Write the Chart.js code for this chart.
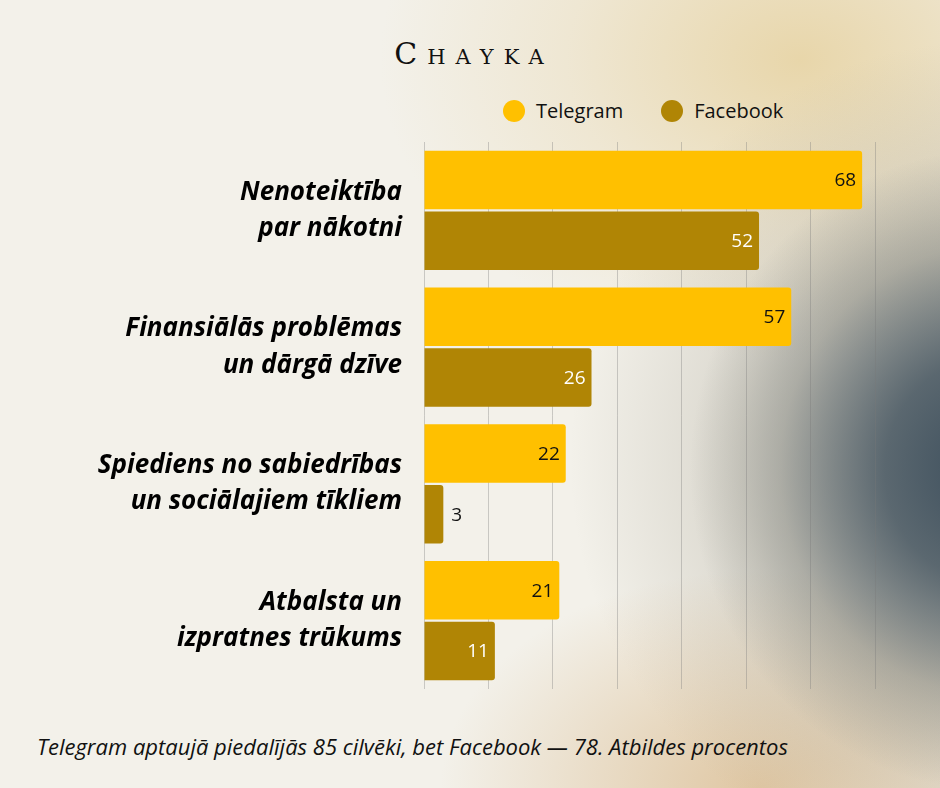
<!DOCTYPE html>
<html><head><meta charset="utf-8">
<script src="https://cdn.jsdelivr.net/npm/chart.js@4"></script>
<style>
html,body{margin:0;padding:0;width:940px;height:788px;overflow:hidden;font-family:"Open Sans",Roboto,sans-serif}
#bg{position:absolute;left:0;top:0;width:940px;height:788px;
background:
radial-gradient(ellipse 300px 320px at 990px 470px, rgba(60,78,92,1) 0%, rgba(75,90,100,0.85) 35%, rgba(130,132,125,0.45) 70%, rgba(200,190,170,0) 100%),
radial-gradient(ellipse 420px 420px at 990px 460px, rgba(90,100,105,0.6) 0%, rgba(160,155,140,0.3) 60%, rgba(220,210,190,0) 100%),
radial-gradient(ellipse 420px 300px at 800px 60px, rgba(232,214,170,1) 0%, rgba(236,224,195,0.6) 55%, rgba(243,240,232,0) 100%),
radial-gradient(ellipse 320px 220px at 760px 790px, rgba(222,196,158,0.95) 0%, rgba(240,230,210,0) 100%),
#f3f1ea;}
#wrap{position:absolute;left:0;top:0;width:940px;height:788px}
#title{position:absolute;top:36px;left:0;width:940px;text-align:center;font-family:"DejaVu Serif",serif;font-size:30px;font-variant:small-caps;letter-spacing:10px;color:#111;padding-left:8px;box-sizing:border-box}
#legend{position:absolute;top:95px;left:503px;font-size:20px;color:#111}
#legend span{display:inline-block;vertical-align:middle}
.dot{width:22px;height:22px;border-radius:50%;margin-right:11px}
#foot{position:absolute;left:37px;top:731px;font-size:22px;font-style:italic;color:#111;white-space:nowrap}
</style></head><body>
<div id="bg"></div>
<div id="title">Chayka</div>
<div id="legend"><span class="dot" style="background:#FFC000"></span><span>Telegram</span><span style="width:38px"></span><span class="dot" style="background:#B08505"></span><span>Facebook</span></div>
<div id="foot">Telegram aptaujā piedalījās 85 cilvēki, bet Facebook — 78. Atbildes procentos</div>
<div id="wrap"><canvas id="c" width="940" height="788"></canvas></div>
<script>
const categories=[["Nenoteiktība","par nākotni"],["Finansiālās problēmas","un dārgā dzīve"],["Spiediens no sabiedrības","un sociālajiem tīkliem"],["Atbalsta un","izpratnes trūkums"]];
const telegram=[68,57,22,21];
const facebook=[52,26,3,11];
const seriesNames=["Telegram","Facebook"];
const labelPlugin={id:'lbl',afterDatasetsDraw(ch){
 const ctx=ch.ctx;ctx.save();ctx.font='19px "Open Sans", sans-serif';ctx.textBaseline='middle';
 ch.data.datasets.forEach((ds,i)=>{ch.getDatasetMeta(i).data.forEach((b,j)=>{
  const v=ds.data[j];
  if(v<6){ctx.fillStyle='#111';ctx.textAlign='left';ctx.fillText(v,b.x+8,b.y+1);}
  else{ctx.fillStyle=i==0?'#111':'#fff';ctx.textAlign='right';ctx.fillText(v,b.x-6,b.y+1);}
 });});ctx.restore();}};
new Chart(document.getElementById('c'),{type:'bar',
 data:{labels:categories,datasets:[
  {label:seriesNames[0],data:telegram,backgroundColor:'#FFC000',borderRadius:3,borderSkipped:'start',categoryPercentage:0.89,barPercentage:0.96},
  {label:seriesNames[1],data:facebook,backgroundColor:'#B08505',borderRadius:3,borderSkipped:'start',categoryPercentage:0.89,barPercentage:0.96}]},
 options:{indexAxis:'y',responsive:false,animation:false,
  layout:{padding:{top:142,bottom:99,right:65,left:0}},
  plugins:{legend:{display:false},tooltip:{enabled:false}},
  scales:{
   x:{min:0,max:70,ticks:{display:false,stepSize:10},border:{display:false},grid:{color:'rgba(120,120,120,0.35)',drawTicks:false}},
   y:{afterFit(s){s.width=424;},grid:{display:false},border:{display:false},
      ticks:{padding:14,color:'#000',font:{family:'"Open Sans", sans-serif',size:26,style:'italic',weight:'bold',lineHeight:1.4}}}
  }},
 plugins:[labelPlugin]});
</script></body></html>
